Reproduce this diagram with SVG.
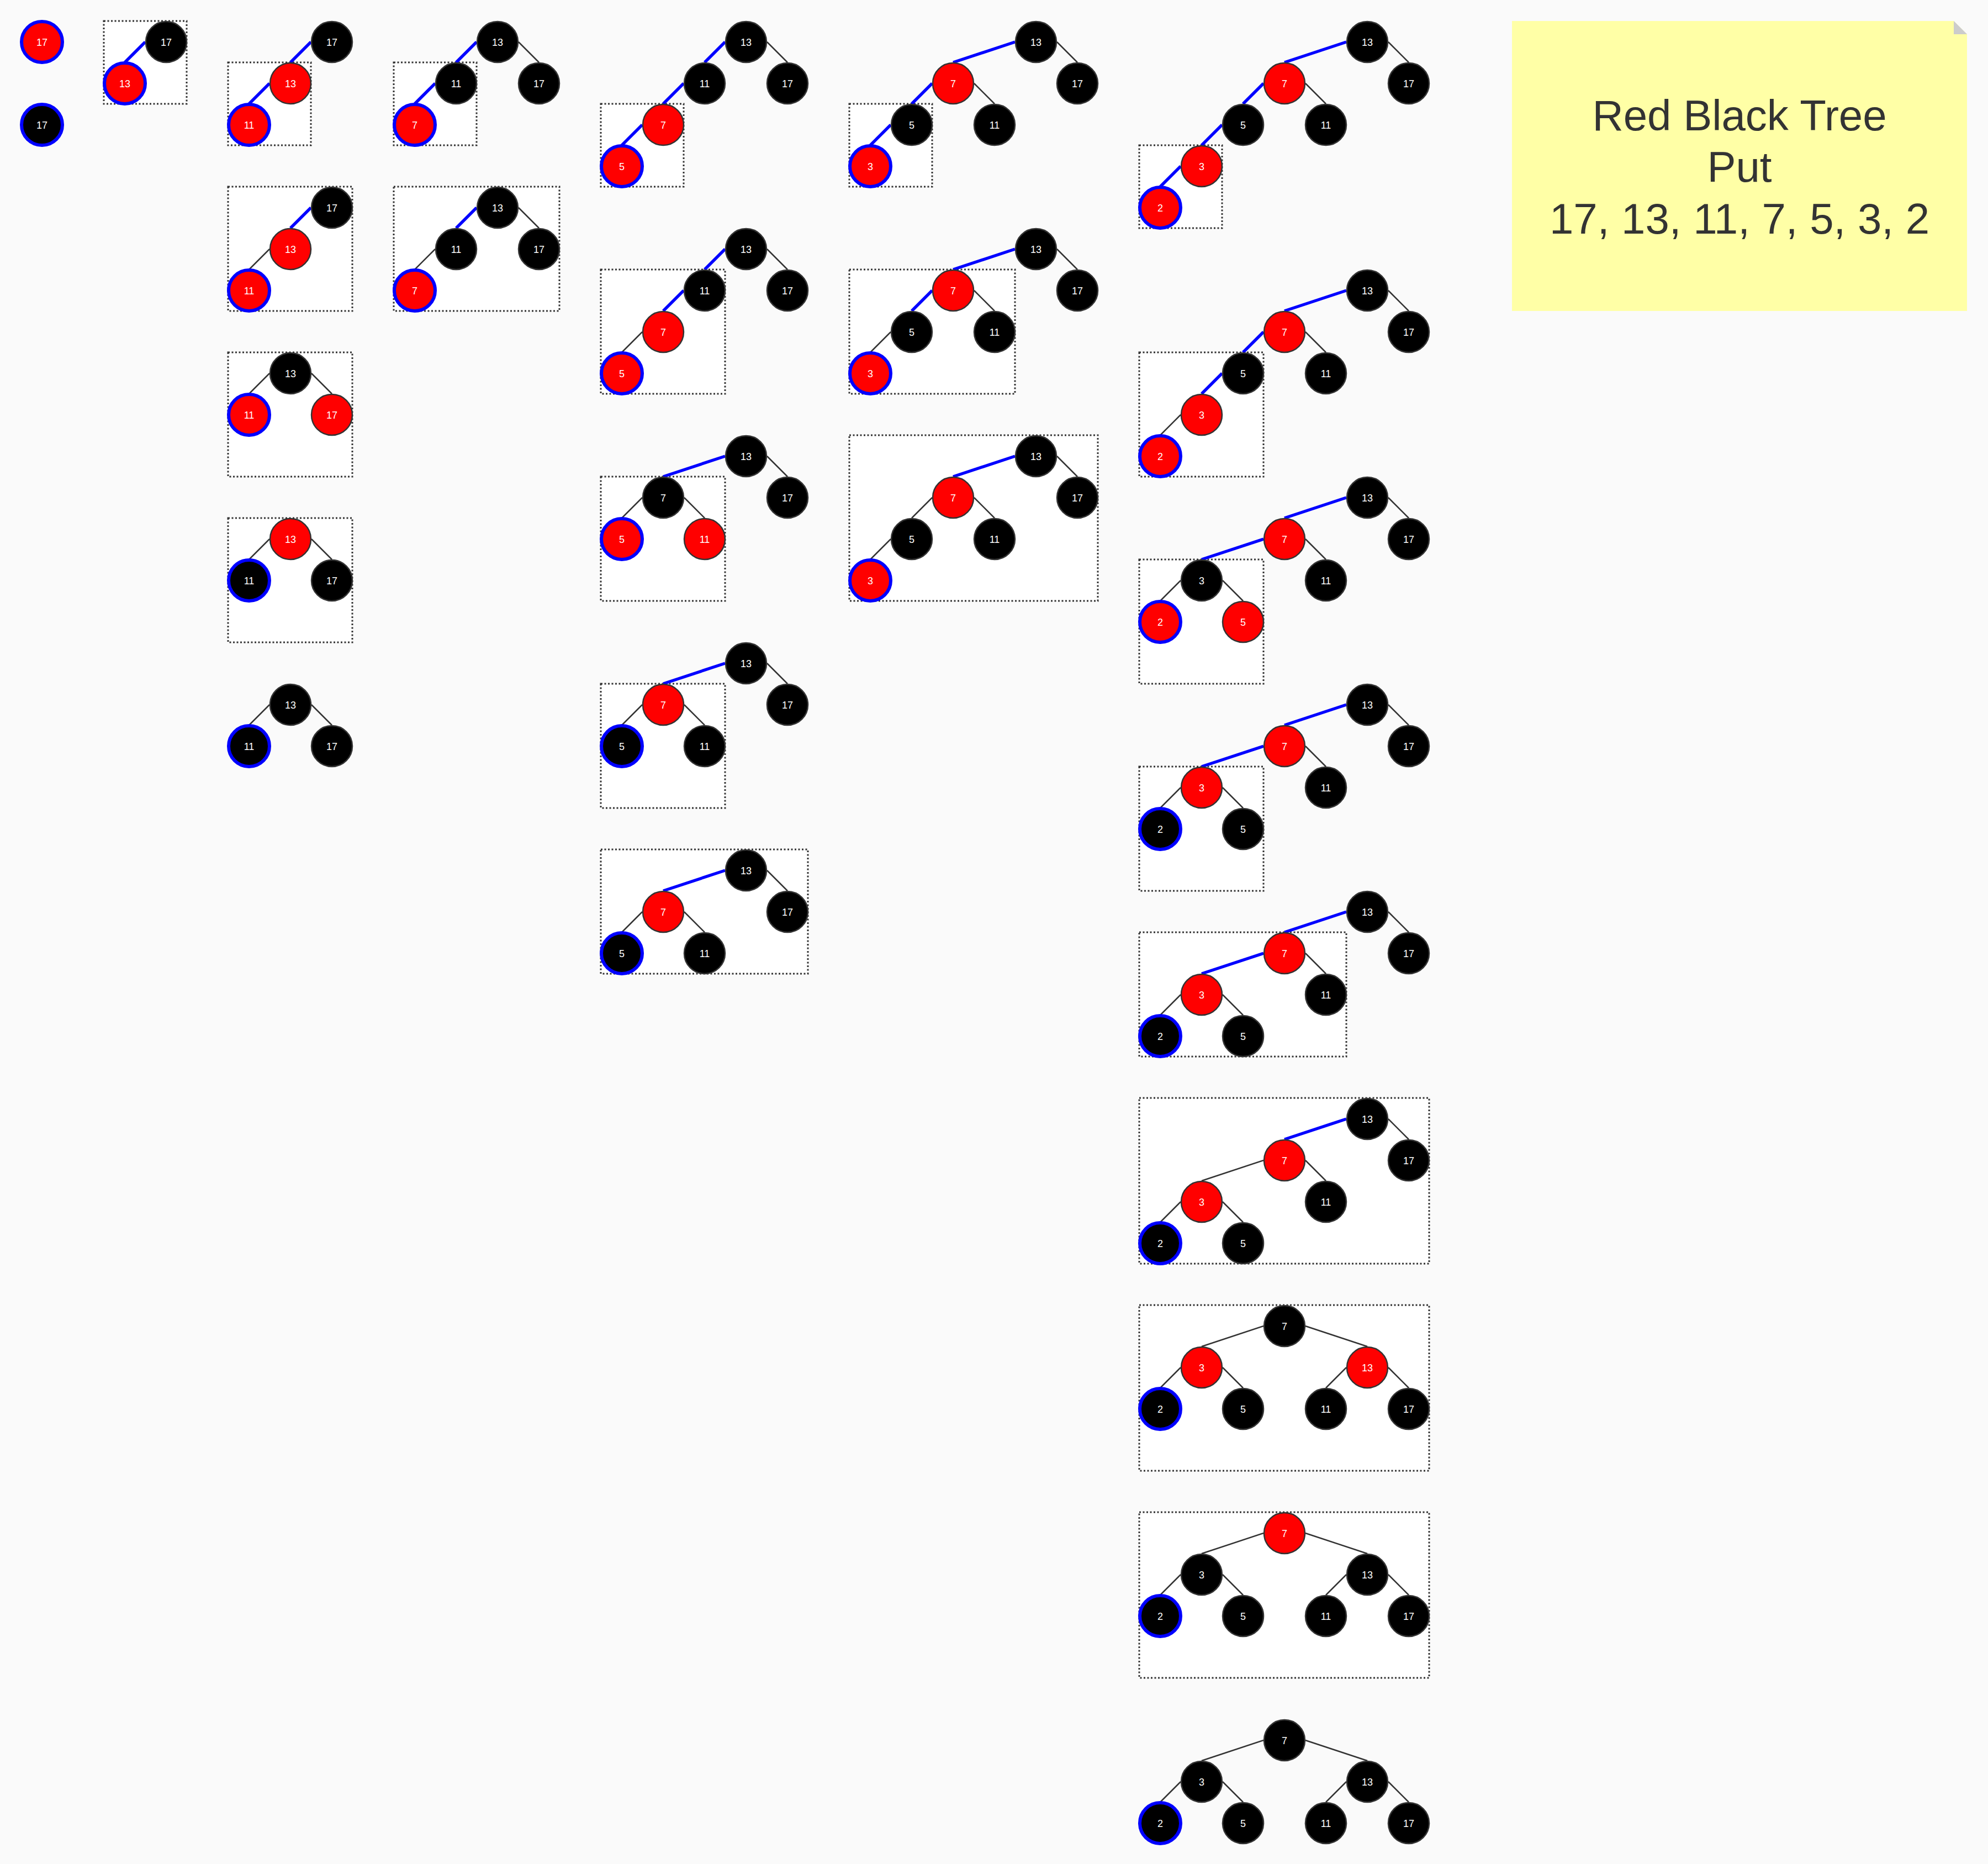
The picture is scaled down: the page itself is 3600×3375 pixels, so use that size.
<svg xmlns="http://www.w3.org/2000/svg" width="3600" height="3375" viewBox="0 0 3600 3375">
<style>
.bg{fill:#fafafa}
.box{fill:#ffffff;stroke:#333333;stroke-width:3;stroke-dasharray:3 3.5}
.node circle{stroke:#333333;stroke-width:2.5}
.node circle.r{fill:#ff0000}
.node circle.b{fill:#000000}
.node circle.sel{stroke:#0000ff;stroke-width:6}
.node text{fill:#ffffff;font-family:"Liberation Sans",Arial,Helvetica,sans-serif;font-size:18px;text-anchor:middle}
.e{stroke:#333333;stroke-width:2.5;fill:none}
.eb{stroke:#0000ff;stroke-width:5.5;fill:none}
.note-text{fill:#333333;font-family:"Liberation Sans",Arial,Helvetica,sans-serif;font-size:78px;text-anchor:middle}
</style>
<rect class="bg" x="0" y="0" width="3600" height="3375"/>

<g id="frames">
<rect class="box" x="188" y="38" width="150" height="150"/>
<rect class="box" x="413" y="113" width="150" height="150"/>
<rect class="box" x="413" y="338" width="225" height="225"/>
<rect class="box" x="413" y="638" width="225" height="225"/>
<rect class="box" x="413" y="938" width="225" height="225"/>
<rect class="box" x="713" y="113" width="150" height="150"/>
<rect class="box" x="713" y="338" width="300" height="225"/>
<rect class="box" x="1088" y="188" width="150" height="150"/>
<rect class="box" x="1088" y="488" width="225" height="225"/>
<rect class="box" x="1088" y="863" width="225" height="225"/>
<rect class="box" x="1088" y="1238" width="225" height="225"/>
<rect class="box" x="1088" y="1538" width="375" height="225"/>
<rect class="box" x="1538" y="188" width="150" height="150"/>
<rect class="box" x="1538" y="488" width="300" height="225"/>
<rect class="box" x="1538" y="788" width="450" height="300"/>
<rect class="box" x="2063" y="263" width="150" height="150"/>
<rect class="box" x="2063" y="638" width="225" height="225"/>
<rect class="box" x="2063" y="1013" width="225" height="225"/>
<rect class="box" x="2063" y="1388" width="225" height="225"/>
<rect class="box" x="2063" y="1688" width="375" height="225"/>
<rect class="box" x="2063" y="1988" width="525" height="300"/>
<rect class="box" x="2063" y="2363" width="525" height="300"/>
<rect class="box" x="2063" y="2738" width="525" height="300"/>
</g>

<g id="note">
<polygon points="2738,38 3538,38 3562,62 3562,563 2738,563" fill="#ffffa6"/>
<polygon points="3538,38 3538,62 3562,62" fill="#cccccc"/>
<text class="note-text" x="3150" y="236">Red Black Tree</text>
<text class="note-text" x="3150" y="329">Put</text>
<text class="note-text" x="3150" y="423">17, 13, 11, 7, 5, 3, 2</text>
</g>

<g id="connectors">
<line class="eb" x1="263" y1="76" x2="226" y2="113"/>
<line class="eb" x1="563" y1="76" x2="526" y2="113"/>
<line class="eb" x1="488" y1="151" x2="451" y2="188"/>
<line class="eb" x1="563" y1="376" x2="526" y2="413"/>
<line class="e" x1="488" y1="451" x2="451" y2="488"/>
<line class="e" x1="488" y1="676" x2="451" y2="713"/>
<line class="e" x1="564" y1="676" x2="601" y2="713"/>
<line class="e" x1="488" y1="976" x2="451" y2="1013"/>
<line class="e" x1="564" y1="976" x2="601" y2="1013"/>
<line class="e" x1="488" y1="1276" x2="451" y2="1313"/>
<line class="e" x1="564" y1="1276" x2="601" y2="1313"/>
<line class="eb" x1="863" y1="76" x2="826" y2="113"/>
<line class="e" x1="939" y1="76" x2="976" y2="113"/>
<line class="eb" x1="788" y1="151" x2="751" y2="188"/>
<line class="eb" x1="863" y1="376" x2="826" y2="413"/>
<line class="e" x1="939" y1="376" x2="976" y2="413"/>
<line class="e" x1="788" y1="451" x2="751" y2="488"/>
<line class="eb" x1="1313" y1="76" x2="1276" y2="113"/>
<line class="e" x1="1389" y1="76" x2="1426" y2="113"/>
<line class="eb" x1="1238" y1="151" x2="1201" y2="188"/>
<line class="eb" x1="1163" y1="226" x2="1126" y2="263"/>
<line class="eb" x1="1313" y1="451" x2="1276" y2="488"/>
<line class="e" x1="1389" y1="451" x2="1426" y2="488"/>
<line class="eb" x1="1238" y1="526" x2="1201" y2="563"/>
<line class="e" x1="1163" y1="601" x2="1126" y2="638"/>
<line class="eb" x1="1313" y1="826" x2="1201" y2="863"/>
<line class="e" x1="1389" y1="826" x2="1426" y2="863"/>
<line class="e" x1="1163" y1="901" x2="1126" y2="938"/>
<line class="e" x1="1239" y1="901" x2="1276" y2="938"/>
<line class="eb" x1="1313" y1="1201" x2="1201" y2="1238"/>
<line class="e" x1="1389" y1="1201" x2="1426" y2="1238"/>
<line class="e" x1="1163" y1="1276" x2="1126" y2="1313"/>
<line class="e" x1="1239" y1="1276" x2="1276" y2="1313"/>
<line class="eb" x1="1313" y1="1576" x2="1201" y2="1613"/>
<line class="e" x1="1389" y1="1576" x2="1426" y2="1613"/>
<line class="e" x1="1163" y1="1651" x2="1126" y2="1688"/>
<line class="e" x1="1239" y1="1651" x2="1276" y2="1688"/>
<line class="eb" x1="1838" y1="76" x2="1726" y2="113"/>
<line class="e" x1="1914" y1="76" x2="1951" y2="113"/>
<line class="eb" x1="1688" y1="151" x2="1651" y2="188"/>
<line class="e" x1="1764" y1="151" x2="1801" y2="188"/>
<line class="eb" x1="1613" y1="226" x2="1576" y2="263"/>
<line class="eb" x1="1838" y1="451" x2="1726" y2="488"/>
<line class="e" x1="1914" y1="451" x2="1951" y2="488"/>
<line class="eb" x1="1688" y1="526" x2="1651" y2="563"/>
<line class="e" x1="1764" y1="526" x2="1801" y2="563"/>
<line class="e" x1="1613" y1="601" x2="1576" y2="638"/>
<line class="eb" x1="1838" y1="826" x2="1726" y2="863"/>
<line class="e" x1="1914" y1="826" x2="1951" y2="863"/>
<line class="e" x1="1688" y1="901" x2="1651" y2="938"/>
<line class="e" x1="1764" y1="901" x2="1801" y2="938"/>
<line class="e" x1="1613" y1="976" x2="1576" y2="1013"/>
<line class="eb" x1="2438" y1="76" x2="2326" y2="113"/>
<line class="e" x1="2514" y1="76" x2="2551" y2="113"/>
<line class="eb" x1="2288" y1="151" x2="2251" y2="188"/>
<line class="e" x1="2364" y1="151" x2="2401" y2="188"/>
<line class="eb" x1="2213" y1="226" x2="2176" y2="263"/>
<line class="eb" x1="2138" y1="301" x2="2101" y2="338"/>
<line class="eb" x1="2438" y1="526" x2="2326" y2="563"/>
<line class="e" x1="2514" y1="526" x2="2551" y2="563"/>
<line class="eb" x1="2288" y1="601" x2="2251" y2="638"/>
<line class="e" x1="2364" y1="601" x2="2401" y2="638"/>
<line class="eb" x1="2213" y1="676" x2="2176" y2="713"/>
<line class="e" x1="2138" y1="751" x2="2101" y2="788"/>
<line class="eb" x1="2438" y1="901" x2="2326" y2="938"/>
<line class="e" x1="2514" y1="901" x2="2551" y2="938"/>
<line class="eb" x1="2288" y1="976" x2="2176" y2="1013"/>
<line class="e" x1="2364" y1="976" x2="2401" y2="1013"/>
<line class="e" x1="2138" y1="1051" x2="2101" y2="1088"/>
<line class="e" x1="2214" y1="1051" x2="2251" y2="1088"/>
<line class="eb" x1="2438" y1="1276" x2="2326" y2="1313"/>
<line class="e" x1="2514" y1="1276" x2="2551" y2="1313"/>
<line class="eb" x1="2288" y1="1351" x2="2176" y2="1388"/>
<line class="e" x1="2364" y1="1351" x2="2401" y2="1388"/>
<line class="e" x1="2138" y1="1426" x2="2101" y2="1463"/>
<line class="e" x1="2214" y1="1426" x2="2251" y2="1463"/>
<line class="eb" x1="2438" y1="1651" x2="2326" y2="1688"/>
<line class="e" x1="2514" y1="1651" x2="2551" y2="1688"/>
<line class="eb" x1="2288" y1="1726" x2="2176" y2="1763"/>
<line class="e" x1="2364" y1="1726" x2="2401" y2="1763"/>
<line class="e" x1="2138" y1="1801" x2="2101" y2="1838"/>
<line class="e" x1="2214" y1="1801" x2="2251" y2="1838"/>
<line class="eb" x1="2438" y1="2026" x2="2326" y2="2063"/>
<line class="e" x1="2514" y1="2026" x2="2551" y2="2063"/>
<line class="e" x1="2288" y1="2101" x2="2176" y2="2138"/>
<line class="e" x1="2364" y1="2101" x2="2401" y2="2138"/>
<line class="e" x1="2138" y1="2176" x2="2101" y2="2213"/>
<line class="e" x1="2214" y1="2176" x2="2251" y2="2213"/>
<line class="e" x1="2288" y1="2401" x2="2176" y2="2438"/>
<line class="e" x1="2364" y1="2401" x2="2476" y2="2438"/>
<line class="e" x1="2138" y1="2476" x2="2101" y2="2513"/>
<line class="e" x1="2214" y1="2476" x2="2251" y2="2513"/>
<line class="e" x1="2438" y1="2476" x2="2401" y2="2513"/>
<line class="e" x1="2514" y1="2476" x2="2551" y2="2513"/>
<line class="e" x1="2288" y1="2776" x2="2176" y2="2813"/>
<line class="e" x1="2364" y1="2776" x2="2476" y2="2813"/>
<line class="e" x1="2138" y1="2851" x2="2101" y2="2888"/>
<line class="e" x1="2214" y1="2851" x2="2251" y2="2888"/>
<line class="e" x1="2438" y1="2851" x2="2401" y2="2888"/>
<line class="e" x1="2514" y1="2851" x2="2551" y2="2888"/>
<line class="e" x1="2288" y1="3151" x2="2176" y2="3188"/>
<line class="e" x1="2364" y1="3151" x2="2476" y2="3188"/>
<line class="e" x1="2138" y1="3226" x2="2101" y2="3263"/>
<line class="e" x1="2214" y1="3226" x2="2251" y2="3263"/>
<line class="e" x1="2438" y1="3226" x2="2401" y2="3263"/>
<line class="e" x1="2514" y1="3226" x2="2551" y2="3263"/>
</g>

<g id="t1-n17" class="node" transform="translate(76,76)"><circle class="r sel" r="37"/><text y="6.5">17</text></g>
<g id="t2-n17" class="node" transform="translate(76,226)"><circle class="b sel" r="37"/><text y="6.5">17</text></g>
<g id="t3-n17" class="node" transform="translate(301,76)"><circle class="b" r="37"/><text y="6.5">17</text></g>
<g id="t3-n13" class="node" transform="translate(226,151)"><circle class="r sel" r="37"/><text y="6.5">13</text></g>
<g id="t4-n17" class="node" transform="translate(601,76)"><circle class="b" r="37"/><text y="6.5">17</text></g>
<g id="t4-n13" class="node" transform="translate(526,151)"><circle class="r" r="37"/><text y="6.5">13</text></g>
<g id="t4-n11" class="node" transform="translate(451,226)"><circle class="r sel" r="37"/><text y="6.5">11</text></g>
<g id="t5-n17" class="node" transform="translate(601,376)"><circle class="b" r="37"/><text y="6.5">17</text></g>
<g id="t5-n13" class="node" transform="translate(526,451)"><circle class="r" r="37"/><text y="6.5">13</text></g>
<g id="t5-n11" class="node" transform="translate(451,526)"><circle class="r sel" r="37"/><text y="6.5">11</text></g>
<g id="t6-n13" class="node" transform="translate(526,676)"><circle class="b" r="37"/><text y="6.5">13</text></g>
<g id="t6-n11" class="node" transform="translate(451,751)"><circle class="r sel" r="37"/><text y="6.5">11</text></g>
<g id="t6-n17" class="node" transform="translate(601,751)"><circle class="r" r="37"/><text y="6.5">17</text></g>
<g id="t7-n13" class="node" transform="translate(526,976)"><circle class="r" r="37"/><text y="6.5">13</text></g>
<g id="t7-n11" class="node" transform="translate(451,1051)"><circle class="b sel" r="37"/><text y="6.5">11</text></g>
<g id="t7-n17" class="node" transform="translate(601,1051)"><circle class="b" r="37"/><text y="6.5">17</text></g>
<g id="t8-n13" class="node" transform="translate(526,1276)"><circle class="b" r="37"/><text y="6.5">13</text></g>
<g id="t8-n11" class="node" transform="translate(451,1351)"><circle class="b sel" r="37"/><text y="6.5">11</text></g>
<g id="t8-n17" class="node" transform="translate(601,1351)"><circle class="b" r="37"/><text y="6.5">17</text></g>
<g id="t9-n13" class="node" transform="translate(901,76)"><circle class="b" r="37"/><text y="6.5">13</text></g>
<g id="t9-n11" class="node" transform="translate(826,151)"><circle class="b" r="37"/><text y="6.5">11</text></g>
<g id="t9-n17" class="node" transform="translate(976,151)"><circle class="b" r="37"/><text y="6.5">17</text></g>
<g id="t9-n7" class="node" transform="translate(751,226)"><circle class="r sel" r="37"/><text y="6.5">7</text></g>
<g id="t10-n13" class="node" transform="translate(901,376)"><circle class="b" r="37"/><text y="6.5">13</text></g>
<g id="t10-n11" class="node" transform="translate(826,451)"><circle class="b" r="37"/><text y="6.5">11</text></g>
<g id="t10-n17" class="node" transform="translate(976,451)"><circle class="b" r="37"/><text y="6.5">17</text></g>
<g id="t10-n7" class="node" transform="translate(751,526)"><circle class="r sel" r="37"/><text y="6.5">7</text></g>
<g id="t11-n13" class="node" transform="translate(1351,76)"><circle class="b" r="37"/><text y="6.5">13</text></g>
<g id="t11-n11" class="node" transform="translate(1276,151)"><circle class="b" r="37"/><text y="6.5">11</text></g>
<g id="t11-n17" class="node" transform="translate(1426,151)"><circle class="b" r="37"/><text y="6.5">17</text></g>
<g id="t11-n7" class="node" transform="translate(1201,226)"><circle class="r" r="37"/><text y="6.5">7</text></g>
<g id="t11-n5" class="node" transform="translate(1126,301)"><circle class="r sel" r="37"/><text y="6.5">5</text></g>
<g id="t12-n13" class="node" transform="translate(1351,451)"><circle class="b" r="37"/><text y="6.5">13</text></g>
<g id="t12-n11" class="node" transform="translate(1276,526)"><circle class="b" r="37"/><text y="6.5">11</text></g>
<g id="t12-n17" class="node" transform="translate(1426,526)"><circle class="b" r="37"/><text y="6.5">17</text></g>
<g id="t12-n7" class="node" transform="translate(1201,601)"><circle class="r" r="37"/><text y="6.5">7</text></g>
<g id="t12-n5" class="node" transform="translate(1126,676)"><circle class="r sel" r="37"/><text y="6.5">5</text></g>
<g id="t13-n13" class="node" transform="translate(1351,826)"><circle class="b" r="37"/><text y="6.5">13</text></g>
<g id="t13-n17" class="node" transform="translate(1426,901)"><circle class="b" r="37"/><text y="6.5">17</text></g>
<g id="t13-n7" class="node" transform="translate(1201,901)"><circle class="b" r="37"/><text y="6.5">7</text></g>
<g id="t13-n5" class="node" transform="translate(1126,976)"><circle class="r sel" r="37"/><text y="6.5">5</text></g>
<g id="t13-n11" class="node" transform="translate(1276,976)"><circle class="r" r="37"/><text y="6.5">11</text></g>
<g id="t14-n13" class="node" transform="translate(1351,1201)"><circle class="b" r="37"/><text y="6.5">13</text></g>
<g id="t14-n17" class="node" transform="translate(1426,1276)"><circle class="b" r="37"/><text y="6.5">17</text></g>
<g id="t14-n7" class="node" transform="translate(1201,1276)"><circle class="r" r="37"/><text y="6.5">7</text></g>
<g id="t14-n5" class="node" transform="translate(1126,1351)"><circle class="b sel" r="37"/><text y="6.5">5</text></g>
<g id="t14-n11" class="node" transform="translate(1276,1351)"><circle class="b" r="37"/><text y="6.5">11</text></g>
<g id="t15-n13" class="node" transform="translate(1351,1576)"><circle class="b" r="37"/><text y="6.5">13</text></g>
<g id="t15-n17" class="node" transform="translate(1426,1651)"><circle class="b" r="37"/><text y="6.5">17</text></g>
<g id="t15-n7" class="node" transform="translate(1201,1651)"><circle class="r" r="37"/><text y="6.5">7</text></g>
<g id="t15-n5" class="node" transform="translate(1126,1726)"><circle class="b sel" r="37"/><text y="6.5">5</text></g>
<g id="t15-n11" class="node" transform="translate(1276,1726)"><circle class="b" r="37"/><text y="6.5">11</text></g>
<g id="t16-n13" class="node" transform="translate(1876,76)"><circle class="b" r="37"/><text y="6.5">13</text></g>
<g id="t16-n17" class="node" transform="translate(1951,151)"><circle class="b" r="37"/><text y="6.5">17</text></g>
<g id="t16-n7" class="node" transform="translate(1726,151)"><circle class="r" r="37"/><text y="6.5">7</text></g>
<g id="t16-n5" class="node" transform="translate(1651,226)"><circle class="b" r="37"/><text y="6.5">5</text></g>
<g id="t16-n11" class="node" transform="translate(1801,226)"><circle class="b" r="37"/><text y="6.5">11</text></g>
<g id="t16-n3" class="node" transform="translate(1576,301)"><circle class="r sel" r="37"/><text y="6.5">3</text></g>
<g id="t17-n13" class="node" transform="translate(1876,451)"><circle class="b" r="37"/><text y="6.5">13</text></g>
<g id="t17-n17" class="node" transform="translate(1951,526)"><circle class="b" r="37"/><text y="6.5">17</text></g>
<g id="t17-n7" class="node" transform="translate(1726,526)"><circle class="r" r="37"/><text y="6.5">7</text></g>
<g id="t17-n5" class="node" transform="translate(1651,601)"><circle class="b" r="37"/><text y="6.5">5</text></g>
<g id="t17-n11" class="node" transform="translate(1801,601)"><circle class="b" r="37"/><text y="6.5">11</text></g>
<g id="t17-n3" class="node" transform="translate(1576,676)"><circle class="r sel" r="37"/><text y="6.5">3</text></g>
<g id="t18-n13" class="node" transform="translate(1876,826)"><circle class="b" r="37"/><text y="6.5">13</text></g>
<g id="t18-n17" class="node" transform="translate(1951,901)"><circle class="b" r="37"/><text y="6.5">17</text></g>
<g id="t18-n7" class="node" transform="translate(1726,901)"><circle class="r" r="37"/><text y="6.5">7</text></g>
<g id="t18-n5" class="node" transform="translate(1651,976)"><circle class="b" r="37"/><text y="6.5">5</text></g>
<g id="t18-n11" class="node" transform="translate(1801,976)"><circle class="b" r="37"/><text y="6.5">11</text></g>
<g id="t18-n3" class="node" transform="translate(1576,1051)"><circle class="r sel" r="37"/><text y="6.5">3</text></g>
<g id="t19-n13" class="node" transform="translate(2476,76)"><circle class="b" r="37"/><text y="6.5">13</text></g>
<g id="t19-n17" class="node" transform="translate(2551,151)"><circle class="b" r="37"/><text y="6.5">17</text></g>
<g id="t19-n7" class="node" transform="translate(2326,151)"><circle class="r" r="37"/><text y="6.5">7</text></g>
<g id="t19-n5" class="node" transform="translate(2251,226)"><circle class="b" r="37"/><text y="6.5">5</text></g>
<g id="t19-n11" class="node" transform="translate(2401,226)"><circle class="b" r="37"/><text y="6.5">11</text></g>
<g id="t19-n3" class="node" transform="translate(2176,301)"><circle class="r" r="37"/><text y="6.5">3</text></g>
<g id="t19-n2" class="node" transform="translate(2101,376)"><circle class="r sel" r="37"/><text y="6.5">2</text></g>
<g id="t20-n13" class="node" transform="translate(2476,526)"><circle class="b" r="37"/><text y="6.5">13</text></g>
<g id="t20-n17" class="node" transform="translate(2551,601)"><circle class="b" r="37"/><text y="6.5">17</text></g>
<g id="t20-n7" class="node" transform="translate(2326,601)"><circle class="r" r="37"/><text y="6.5">7</text></g>
<g id="t20-n5" class="node" transform="translate(2251,676)"><circle class="b" r="37"/><text y="6.5">5</text></g>
<g id="t20-n11" class="node" transform="translate(2401,676)"><circle class="b" r="37"/><text y="6.5">11</text></g>
<g id="t20-n3" class="node" transform="translate(2176,751)"><circle class="r" r="37"/><text y="6.5">3</text></g>
<g id="t20-n2" class="node" transform="translate(2101,826)"><circle class="r sel" r="37"/><text y="6.5">2</text></g>
<g id="t21-n13" class="node" transform="translate(2476,901)"><circle class="b" r="37"/><text y="6.5">13</text></g>
<g id="t21-n17" class="node" transform="translate(2551,976)"><circle class="b" r="37"/><text y="6.5">17</text></g>
<g id="t21-n7" class="node" transform="translate(2326,976)"><circle class="r" r="37"/><text y="6.5">7</text></g>
<g id="t21-n11" class="node" transform="translate(2401,1051)"><circle class="b" r="37"/><text y="6.5">11</text></g>
<g id="t21-n3" class="node" transform="translate(2176,1051)"><circle class="b" r="37"/><text y="6.5">3</text></g>
<g id="t21-n2" class="node" transform="translate(2101,1126)"><circle class="r sel" r="37"/><text y="6.5">2</text></g>
<g id="t21-n5" class="node" transform="translate(2251,1126)"><circle class="r" r="37"/><text y="6.5">5</text></g>
<g id="t22-n13" class="node" transform="translate(2476,1276)"><circle class="b" r="37"/><text y="6.5">13</text></g>
<g id="t22-n17" class="node" transform="translate(2551,1351)"><circle class="b" r="37"/><text y="6.5">17</text></g>
<g id="t22-n7" class="node" transform="translate(2326,1351)"><circle class="r" r="37"/><text y="6.5">7</text></g>
<g id="t22-n11" class="node" transform="translate(2401,1426)"><circle class="b" r="37"/><text y="6.5">11</text></g>
<g id="t22-n3" class="node" transform="translate(2176,1426)"><circle class="r" r="37"/><text y="6.5">3</text></g>
<g id="t22-n2" class="node" transform="translate(2101,1501)"><circle class="b sel" r="37"/><text y="6.5">2</text></g>
<g id="t22-n5" class="node" transform="translate(2251,1501)"><circle class="b" r="37"/><text y="6.5">5</text></g>
<g id="t23-n13" class="node" transform="translate(2476,1651)"><circle class="b" r="37"/><text y="6.5">13</text></g>
<g id="t23-n17" class="node" transform="translate(2551,1726)"><circle class="b" r="37"/><text y="6.5">17</text></g>
<g id="t23-n7" class="node" transform="translate(2326,1726)"><circle class="r" r="37"/><text y="6.5">7</text></g>
<g id="t23-n11" class="node" transform="translate(2401,1801)"><circle class="b" r="37"/><text y="6.5">11</text></g>
<g id="t23-n3" class="node" transform="translate(2176,1801)"><circle class="r" r="37"/><text y="6.5">3</text></g>
<g id="t23-n2" class="node" transform="translate(2101,1876)"><circle class="b sel" r="37"/><text y="6.5">2</text></g>
<g id="t23-n5" class="node" transform="translate(2251,1876)"><circle class="b" r="37"/><text y="6.5">5</text></g>
<g id="t24-n13" class="node" transform="translate(2476,2026)"><circle class="b" r="37"/><text y="6.5">13</text></g>
<g id="t24-n17" class="node" transform="translate(2551,2101)"><circle class="b" r="37"/><text y="6.5">17</text></g>
<g id="t24-n7" class="node" transform="translate(2326,2101)"><circle class="r" r="37"/><text y="6.5">7</text></g>
<g id="t24-n11" class="node" transform="translate(2401,2176)"><circle class="b" r="37"/><text y="6.5">11</text></g>
<g id="t24-n3" class="node" transform="translate(2176,2176)"><circle class="r" r="37"/><text y="6.5">3</text></g>
<g id="t24-n2" class="node" transform="translate(2101,2251)"><circle class="b sel" r="37"/><text y="6.5">2</text></g>
<g id="t24-n5" class="node" transform="translate(2251,2251)"><circle class="b" r="37"/><text y="6.5">5</text></g>
<g id="t25-n7" class="node" transform="translate(2326,2401)"><circle class="b" r="37"/><text y="6.5">7</text></g>
<g id="t25-n3" class="node" transform="translate(2176,2476)"><circle class="r" r="37"/><text y="6.5">3</text></g>
<g id="t25-n13" class="node" transform="translate(2476,2476)"><circle class="r" r="37"/><text y="6.5">13</text></g>
<g id="t25-n2" class="node" transform="translate(2101,2551)"><circle class="b sel" r="37"/><text y="6.5">2</text></g>
<g id="t25-n5" class="node" transform="translate(2251,2551)"><circle class="b" r="37"/><text y="6.5">5</text></g>
<g id="t25-n11" class="node" transform="translate(2401,2551)"><circle class="b" r="37"/><text y="6.5">11</text></g>
<g id="t25-n17" class="node" transform="translate(2551,2551)"><circle class="b" r="37"/><text y="6.5">17</text></g>
<g id="t26-n7" class="node" transform="translate(2326,2776)"><circle class="r" r="37"/><text y="6.5">7</text></g>
<g id="t26-n3" class="node" transform="translate(2176,2851)"><circle class="b" r="37"/><text y="6.5">3</text></g>
<g id="t26-n13" class="node" transform="translate(2476,2851)"><circle class="b" r="37"/><text y="6.5">13</text></g>
<g id="t26-n2" class="node" transform="translate(2101,2926)"><circle class="b sel" r="37"/><text y="6.5">2</text></g>
<g id="t26-n5" class="node" transform="translate(2251,2926)"><circle class="b" r="37"/><text y="6.5">5</text></g>
<g id="t26-n11" class="node" transform="translate(2401,2926)"><circle class="b" r="37"/><text y="6.5">11</text></g>
<g id="t26-n17" class="node" transform="translate(2551,2926)"><circle class="b" r="37"/><text y="6.5">17</text></g>
<g id="t27-n7" class="node" transform="translate(2326,3151)"><circle class="b" r="37"/><text y="6.5">7</text></g>
<g id="t27-n3" class="node" transform="translate(2176,3226)"><circle class="b" r="37"/><text y="6.5">3</text></g>
<g id="t27-n13" class="node" transform="translate(2476,3226)"><circle class="b" r="37"/><text y="6.5">13</text></g>
<g id="t27-n2" class="node" transform="translate(2101,3301)"><circle class="b sel" r="37"/><text y="6.5">2</text></g>
<g id="t27-n5" class="node" transform="translate(2251,3301)"><circle class="b" r="37"/><text y="6.5">5</text></g>
<g id="t27-n11" class="node" transform="translate(2401,3301)"><circle class="b" r="37"/><text y="6.5">11</text></g>
<g id="t27-n17" class="node" transform="translate(2551,3301)"><circle class="b" r="37"/><text y="6.5">17</text></g>
</svg>
